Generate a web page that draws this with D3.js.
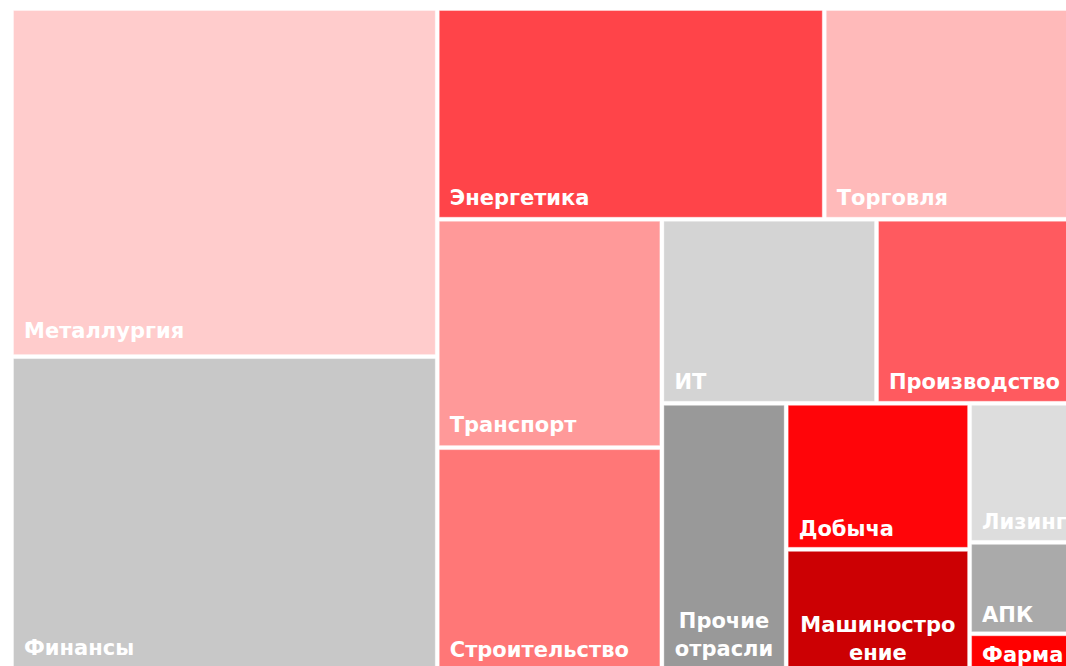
<!DOCTYPE html>
<html>
<head>
<meta charset="utf-8">
<script src="https://cdn.jsdelivr.net/npm/d3@7"></script>
<style>
  html, body { margin: 0; padding: 0; background: #fff; overflow: hidden; }
  svg { display: block; }
  .tile-label { font-family: "DejaVu Sans", Verdana, sans-serif; font-weight: bold; fill: #fff; }
</style>
</head>
<body>
<div id="chart"></div>
<script>
(function() {

  // доли отраслей, %
  const sectors = ['Металлургия', 'Финансы', 'Энергетика', 'Торговля', 'Транспорт', 'Строительство',
    'ИТ', 'Производство', 'Прочие отрасли', 'Добыча', 'Машиностроение', 'Лизинг', 'АПК', 'Фарма'];
  const shares = [20.86, 18.93, 11.48, 7.63, 7.22, 7.11, 5.56, 5.31, 4.71, 3.77, 3.18, 2.19, 1.44, 0.61];
  const colors = ['#ffcccc', '#c8c8c8', '#ff4449', '#ffbaba', '#ff9999', '#ff7777',
    '#d4d4d4', '#ff5a5f', '#999999', '#ff0509', '#cc0003', '#dddddd', '#aaaaaa', '#ff0000'];

  const svgSize = { x: 1066, y: 666 };
  const mapPos = { x: 13, y: 10 };
  const mapSize = { x: 1067, y: 661 };
  const fontSize = 21;
  const lineHeight = 28;

  // squarify как в d3, но с ratio < 1 (d3 сам обрезает ratio до 1)
  function squarifyTile(ratio) {
    return function(parent, x0, y0, x1, y1) {
      const nodes = parent.children;
      const n = nodes.length;
      let value = parent.value;
      let i0 = 0, i1 = 0;
      while (i0 < n) {
        const dx = x1 - x0, dy = y1 - y0;
        let sumValue;
        do sumValue = nodes[i1++].value; while (!sumValue && i1 < n);
        let minValue = sumValue, maxValue = sumValue;
        const alpha = Math.max(dy / dx, dx / dy) / (value * ratio);
        let beta = sumValue * sumValue * alpha;
        let minRatio = Math.max(maxValue / beta, beta / minValue);
        for (; i1 < n; ++i1) {
          const nodeValue = nodes[i1].value;
          sumValue += nodeValue;
          if (nodeValue < minValue) minValue = nodeValue;
          if (nodeValue > maxValue) maxValue = nodeValue;
          beta = sumValue * sumValue * alpha;
          const newRatio = Math.max(maxValue / beta, beta / minValue);
          if (newRatio > minRatio) { sumValue -= nodeValue; break; }
          minRatio = newRatio;
        }
        const row = { value: sumValue, children: nodes.slice(i0, i1) };
        if (dx < dy) d3.treemapDice(row, x0, y0, x1, value ? y0 += dy * sumValue / value : y1);
        else d3.treemapSlice(row, x0, y0, value ? x0 += dx * sumValue / value : x1, y1);
        value -= sumValue;
        i0 = i1;
      }
    };
  }

  const svg = d3.select('#chart')
    .append('svg')
    .attr('width', svgSize.x)
    .attr('height', svgSize.y);

  const root = d3.hierarchy({
    name: 'root',
    children: sectors.map((name, i) => ({ name: name, value: shares[i], color: colors[i] }))
  }).sum(d => d.value || 0);

  d3.treemap()
    .tile(squarifyTile(0.8))
    .size([mapSize.x, mapSize.y])
    .paddingInner(3)
    .round(false)(root);

  const map = svg.append('g')
    .attr('transform', `translate(${mapPos.x}, ${mapPos.y})`);

  const cells = map.selectAll('.cell')
    .data(root.leaves())
    .enter()
    .append('g')
      .attr('class', 'cell');

  cells.append('rect')
    .attr('x', d => d.x0 + 0.5)
    .attr('y', d => d.y0 + 0.5)
    .attr('width', d => d.x1 - d.x0 - 1)
    .attr('height', d => d.y1 - d.y0 - 1)
    .attr('fill', d => d.data.color)
    .attr('stroke', '#fff')
    .attr('stroke-opacity', 0.35)
    .attr('stroke-width', 1);

  // измерение ширины текста
  const measure = map.append('text')
    .attr('class', 'tile-label')
    .attr('font-size', fontSize)
    .attr('visibility', 'hidden');
  const textWidth = s => { measure.text(s); return measure.node().getComputedTextLength(); };

  // перенос по словам, длинные слова режутся по буквам
  function wrap(label, maxW) {
    if (textWidth(label) <= maxW) return null;
    let lines = [];
    label.split(' ').forEach(word => {
      let cur = '';
      for (const ch of word) {
        if (cur && textWidth(cur + ch) > maxW) { lines.push(cur); cur = ch; }
        else cur += ch;
      }
      lines.push(cur);
    });
    return lines;
  }

  // подпись прижата к низу плитки, отступ немного растёт с высотой
  const baseline = d => d.y1 - (8 + 0.025 * (d.y1 - d.y0));

  cells.each(function(d) {
    const w = d.x1 - d.x0;
    const lines = wrap(d.data.name, w - 16);
    const g = d3.select(this);
    if (!lines) {
      g.append('text')
        .attr('class', 'tile-label')
        .attr('font-size', fontSize)
        .attr('x', d.x0 + 11)
        .attr('y', baseline(d))
        .text(d.data.name);
    } else {
      lines.forEach((line, i) => {
        g.append('text')
          .attr('class', 'tile-label')
          .attr('font-size', fontSize)
          .attr('text-anchor', 'middle')
          .attr('x', (d.x0 + d.x1) / 2)
          .attr('y', baseline(d) - (lines.length - 1 - i) * lineHeight)
          .text(line);
      });
    }
  });
  measure.remove();
}());
</script>
</body>
</html>
